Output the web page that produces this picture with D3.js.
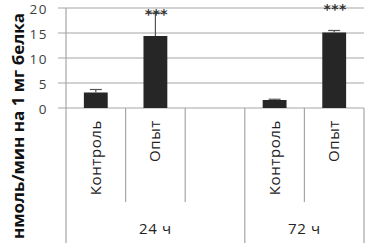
<!DOCTYPE html>
<html><head><meta charset="utf-8">
<script src="https://cdn.jsdelivr.net/npm/d3@7"></script>
<style>body{margin:0;background:#fff}svg{display:block}</style>
</head><body>
<svg id="c" width="368" height="243"></svg>
<script>
const categories = ["Контроль","Опыт","","Контроль","Опыт"];
const groups = ["24 ч","72 ч"];
const groupSpans = [3,2];
const values = [3.1, 14.4, null, 1.6, 15.1];
const errors = [0.6, 4.6, null, 0.15, 0.4];
const signif = ["", "***", "", "", "***"];
const signifAt = [null, 19.2, null, null, 20.2];
const yTicks = [0,5,10,15,20];
const yTitle = "нмоль/мин на 1 мг белка";

const svg = d3.select("#c");
const L=66, R=364, T=8, B=108, BOT=243;
const font = "'Open Sans', sans-serif";
const x = d3.scaleBand().domain(d3.range(categories.length)).range([L,R]).paddingInner(0).paddingOuter(0);
const y = d3.scaleLinear().domain([0,20]).range([B,T]);
const bw = x.bandwidth()*0.4;

// gridlines
svg.selectAll("line.grid").data(yTicks).join("line")
  .attr("x1",58).attr("x2",R).attr("y1",d=>y(d)).attr("y2",d=>y(d))
  .attr("stroke","#a6a6a6").attr("stroke-width",1.2);
// tick labels
svg.selectAll("text.yt").data(yTicks).join("text")
  .attr("x",48).attr("y",d=>y(d)).attr("dy","0.42em").attr("text-anchor","end")
  .attr("font-family",font).attr("font-size",13.5).attr("letter-spacing",1.5).attr("fill","#404040").text(d=>d);
// y axis line
svg.append("line").attr("x1",L).attr("x2",L).attr("y1",T).attr("y2",BOT).attr("stroke","#a6a6a6").attr("stroke-width",1.2);
// category separators
const idx = d3.range(1,categories.length+1);
let boundaries = [];
let acc=0; groupSpans.forEach(s=>{acc+=s; boundaries.push(acc);});
svg.selectAll("line.sep").data(idx).join("line")
  .attr("x1",i=>x(i-1)+x.bandwidth()).attr("x2",i=>x(i-1)+x.bandwidth())
  .attr("y1",B).attr("y2",i=>boundaries.includes(i)?BOT:202)
  .attr("stroke","#a6a6a6").attr("stroke-width",1.2);

// bars
const data = categories.map((c,i)=>({i,v:values[i],e:errors[i],s:signif[i],sp:signifAt[i]})).filter(d=>d.v!=null);
svg.selectAll("rect.bar").data(data).join("rect")
  .attr("x",d=>x(d.i)+(x.bandwidth()-bw)/2).attr("width",bw)
  .attr("y",d=>y(d.v)).attr("height",d=>y(0)-y(d.v)).attr("fill","#262626");
// error bars
const eg = svg.selectAll("g.err").data(data).join("g");
eg.append("line").attr("x1",d=>x(d.i)+x.bandwidth()/2).attr("x2",d=>x(d.i)+x.bandwidth()/2)
  .attr("y1",d=>y(d.v)).attr("y2",d=>y(d.v+d.e)).attr("stroke","#555").attr("stroke-width",1.2);
eg.append("line").attr("x1",d=>x(d.i)+x.bandwidth()/2-6).attr("x2",d=>x(d.i)+x.bandwidth()/2+6)
  .attr("y1",d=>y(d.v+d.e)).attr("y2",d=>y(d.v+d.e)).attr("stroke","#555").attr("stroke-width",1.2);
// significance
svg.selectAll("text.sig").data(data.filter(d=>d.s)).join("text")
  .attr("x",d=>x(d.i)+x.bandwidth()/2+1).attr("y",d=>y(d.sp)+7)
  .attr("text-anchor","middle").attr("font-family","'DejaVu Sans', sans-serif").attr("font-size",14)
  .attr("font-weight","bold").attr("letter-spacing",0.5).attr("fill","#333").text(d=>d.s);

// category labels
svg.selectAll("text.cat").data(categories.map((c,i)=>({c,i})).filter(d=>d.c)).join("text")
  .attr("transform",d=>`translate(${x(d.i)+x.bandwidth()/2+5},120) rotate(-90)`)
  .attr("text-anchor","end").attr("font-family",font).attr("font-size",15).attr("letter-spacing",0.6)
  .attr("fill","#222").text(d=>d.c);
// group labels
let start=0;
groups.forEach((g,k)=>{
  const x0=x(start), x1=x(start+groupSpans[k]-1)+x.bandwidth();
  svg.append("text").attr("x",(x0+x1)/2).attr("y",234).attr("text-anchor","middle")
    .attr("font-family",font).attr("font-size",15).attr("letter-spacing",0.6).attr("fill","#222").text(g);
  start+=groupSpans[k];
});
// y title
svg.append("text").attr("transform",`translate(24,126) rotate(-90)`).attr("text-anchor","middle")
  .attr("font-family",font).attr("font-size",16).attr("font-weight","bold").attr("fill","#111")
  .attr("textLength",226).attr("lengthAdjust","spacingAndGlyphs").text(yTitle);
</script>
</body></html>
